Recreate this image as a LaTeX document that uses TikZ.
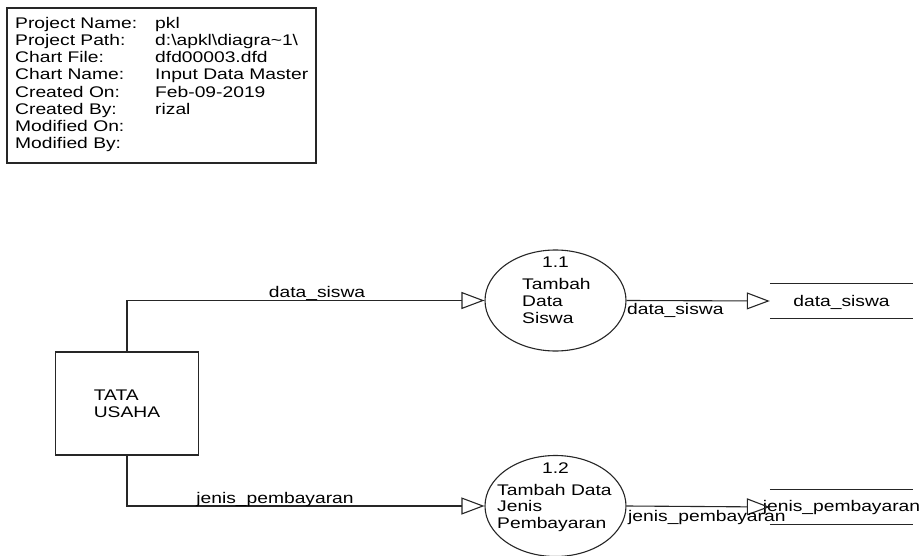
\documentclass[tikz,border=0pt]{standalone}
\usepackage{fontspec}
\setmainfont[FakeStretch=1.25]{Liberation Sans}
\usetikzlibrary{arrows.meta,shapes.geometric}
\begin{document}
\begin{tikzpicture}[x=1pt,y=-1pt,
  every node/.style={font=\fontsize{15.4}{17.3}\selectfont, inner sep=0pt, text=black},
  txt/.style={anchor=base west},
  ctxt/.style={anchor=base},
  frame/.style={draw=black!85, line width=1.1pt, rectangle},
  proc/.style={draw=black!85, line width=1.1pt, ellipse, minimum width=141pt, minimum height=101pt},
  store/.style={rectangle, minimum width=143pt, minimum height=35pt},
  storeline/.style={draw=black!85, line width=1.1pt},
  flow/.style={draw=black!85, line width=1.1pt, -{Triangle[open, length=23pt, width=17pt]}}
]
\useasboundingbox (0,0) rectangle (923,556);

% info box
\node[frame, minimum width=309pt, minimum height=155pt] (info) at (161.5,85.5) {};
\node[txt] (l1) at (15,28.3) {Project Name:};
\node[txt] (l2) at (15,45.6) {Project Path:};
\node[txt] (l3) at (15,62.8) {Chart File:};
\node[txt] (l4) at (15,80.0) {Chart Name:};
\node[txt] (l5) at (15,97.3) {Created On:};
\node[txt] (l6) at (15,114.5) {Created By:};
\node[txt] (l7) at (15,131.7) {Modified On:};
\node[txt] (l8) at (15,148.9) {Modified By:};
\node[txt] (v1) at (155,28.3) {pkl};
\node[txt] (v2) at (155,45.6) {d:\textbackslash apkl\textbackslash diagra\char"7E 1\textbackslash};
\node[txt] (v3) at (155,62.8) {dfd00003.dfd};
\node[txt] (v4) at (155,80.0) {Input Data Master};
\node[txt] (v5) at (155,97.3) {Feb-09-2019};
\node[txt] (v6) at (155,114.5) {rizal};

% external entity
\node[frame, minimum width=143pt, minimum height=103pt, align=left] (tu) at (127,403.5) {TATA\\USAHA};

% processes
\node[proc] (p11) at (555.5,300.5) {};
\node[ctxt] (n11) at (555.5,267) {1.1};
\node[txt] (t11a) at (522,289.5) {Tambah};
\node[txt] (t11b) at (522,306.3) {Data};
\node[txt] (t11c) at (522,323) {Siswa};

\node[proc] (p12) at (555.5,506) {};
\node[ctxt] (n12) at (555.5,473) {1.2};
\node[txt] (t12a) at (497,495) {Tambah Data};
\node[txt] (t12b) at (497,511.7) {Jenis};
\node[txt] (t12c) at (497,528.4) {Pembayaran};

% data stores
\node[store] (s1) at (841.5,301) {};
\draw[storeline] (s1.north west) -- (s1.north east);
\draw[storeline] (s1.south west) -- (s1.south east);
\node[ctxt] (s1t) at (841.5,306) {data\_siswa};

\node[store] (s2) at (841.5,507) {};
\draw[storeline] (s2.north west) -- (s2.north east);
\draw[storeline] (s2.south west) -- (s2.south east);
\node[ctxt] (s2t) at (841.5,511.5) {jenis\_pembayaran};

% flows
\draw[flow] (tu.north) |- (p11.west);
\draw[flow] (tu.south) |- (p12.west);
\draw[flow] (p11.east) -- (s1.west);
\draw[flow] (p12.east) -- (s2.west);

% flow labels
\node[ctxt] (f1) at (317,297) {data\_siswa};
\node[ctxt] (f2) at (275,503.5) {jenis\_pembayaran};
\node[txt] (f3) at (627,314) {data\_siswa};
\node[txt] (f4) at (628,521) {jenis\_pembayaran};
\end{tikzpicture}
\end{document}
